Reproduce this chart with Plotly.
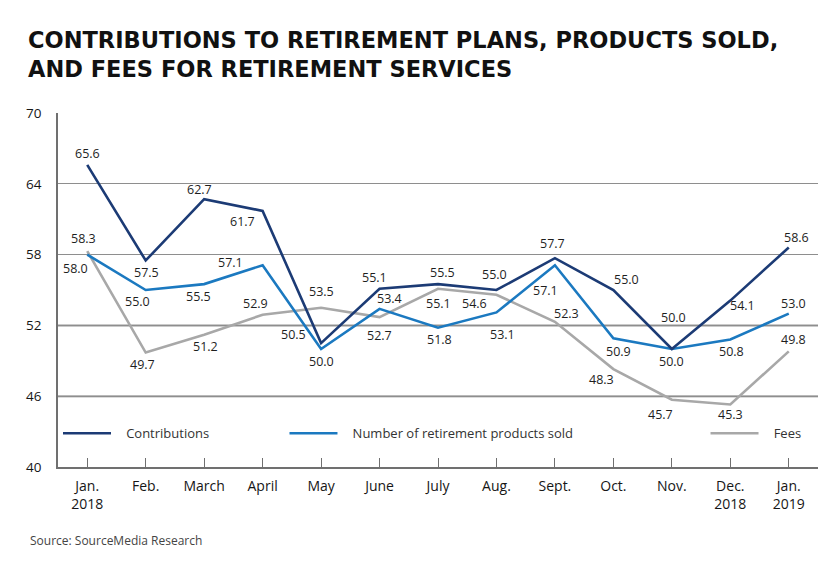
"""
Contributions to retirement plans, products sold, and fees for retirement services
Result: out.html (plotly)
"""

import plotly.graph_objects as go

# ── Data ─────────────────────────────────────────────────────────────
MONTHS = ["Jan.<br>2018", "Feb.", "March", "April", "May", "June", "July",
          "Aug.", "Sept.", "Oct.", "Nov.", "Dec.<br>2018", "Jan.<br>2019"]

CONTRIBUTIONS = [65.6, 57.5, 62.7, 61.7, 50.5, 55.1, 55.5, 55.0, 57.7, 55.0, 50.0, 54.1, 58.6]
PRODUCTS_SOLD = [58.0, 55.0, 55.5, 57.1, 50.0, 53.4, 51.8, 53.1, 57.1, 50.9, 50.0, 50.8, 53.0]
FEES          = [58.3, 49.7, 51.2, 52.9, 53.5, 52.7, 55.1, 54.6, 52.3, 48.3, 45.7, 45.3, 49.8]

Y_TICKS = [40, 46, 52, 58, 64, 70]
GRID_EMPH = [46, 52]

# ── Style ────────────────────────────────────────────────────────────
FONT = "Open Sans, Arial"
C_NAVY = "#1c3b75"
C_BLUE = "#1b79c0"
C_GRAY = "#a8a8a8"
AXIS_C = "#707070"
PAD = "\u00a0" * 3  # gap between legend line and text

# label offsets in pixels (dx, dy) for each point
OFF_CONTRIB = [(0, 11), (1, -12), (-5, 10), (-20, -11), (-28, 9), (-5, 11), (4, 12),
               (-2, 16), (-2, 15), (13, 11), (2, 32), (12, -5), (8, 10)]
OFF_PRODUCTS = [(-12, -14), (-8, -11), (-6, -12), (-32, 3), (0, -12), (10, 10), (1, -12),
                (6, -22), (-9, -25), (5, -13), (0, -12), (1, -12), (5, 10)]
OFF_FEES = [(-4, 13), (-3, -12), (1, -12), (-7, 11), (0, 16), (0, -18), (0, -15),
            (-22, -9), (12, 8), (-12, -10), (-11, -15), (0, -10), (5, 12)]

series = [
    ("Fees", FEES, C_GRAY, OFF_FEES, "legend3"),
    ("Number of retirement products sold", PRODUCTS_SOLD, C_BLUE, OFF_PRODUCTS, "legend2"),
    ("Contributions", CONTRIBUTIONS, C_NAVY, OFF_CONTRIB, "legend"),
]

x_idx = list(range(len(MONTHS)))

fig = go.Figure()

for name, vals, color, offs, leg in series:
    fig.add_trace(go.Scatter(
        x=x_idx, y=vals, mode="lines", name=PAD + name, legend=leg,
        line=dict(color=color, width=2.6),
        hoverinfo="skip",
    ))
    for i, (v, (dx, dy)) in enumerate(zip(vals, offs)):
        fig.add_annotation(
            x=i, y=v, text=f"{v:.1f}", showarrow=False,
            xshift=dx, yshift=dy,
            font=dict(family=FONT, size=12.5, color="#1e1e1e"),
        )

# emphasised light grid lines
for g in GRID_EMPH:
    fig.add_hline(y=g, line=dict(color="#b9b9b9", width=2.5), layer="below")

# ── Layout ───────────────────────────────────────────────────────────
leg_common = dict(
    orientation="h", yanchor="middle", y=0.095, xanchor="left", itemwidth=48,
    bgcolor="rgba(0,0,0,0)", font=dict(family=FONT, size=13, color="#333333"),
)

fig.update_layout(
    width=840, height=570,
    paper_bgcolor="white", plot_bgcolor="white",
    margin=dict(l=50, r=30, t=105, b=111),
    title=dict(
        text="<b>CONTRIBUTIONS TO RETIREMENT PLANS, PRODUCTS SOLD,<br>AND FEES FOR RETIREMENT SERVICES</b>",
        x=20 / 840, xanchor="left", y=1 - 40 / 570, yanchor="top",
        font=dict(family="DejaVu Sans, Open Sans", size=22.5, color="#111111"),
    ),
    legend=dict(x=0.0, **leg_common),
    legend2=dict(x=0.298, **leg_common),
    legend3=dict(x=0.852, **leg_common),
    showlegend=True,
)

fig.update_xaxes(
    range=[-0.5, len(MONTHS) - 0.5],
    tickvals=x_idx, ticktext=MONTHS,
    tickson="boundaries", ticks="inside", ticklen=9, tickcolor=AXIS_C, tickwidth=1,
    showline=True, linecolor=AXIS_C, linewidth=1.5,
    showgrid=False, zeroline=False, ticklabelstandoff=5,
    tickfont=dict(family=FONT, size=14, color="#161616"),
)
fig.update_yaxes(
    range=[40, 70], tickvals=Y_TICKS,
    showgrid=True, gridcolor="#8e8e8e", gridwidth=1.3,
    showline=True, linecolor=AXIS_C, linewidth=1.5,
    zeroline=False, ticks="", ticklabelstandoff=12,
    tickfont=dict(family=FONT, size=13.5, color="#161616"),
)

fig.add_annotation(
    xref="paper", yref="paper", x=-30 / 760, y=-73 / 354,
    xanchor="left", yanchor="middle", showarrow=False,
    text="Source: SourceMedia Research",
    font=dict(family=FONT, size=12, color="#444444"),
)

fig.write_html("out.html")
